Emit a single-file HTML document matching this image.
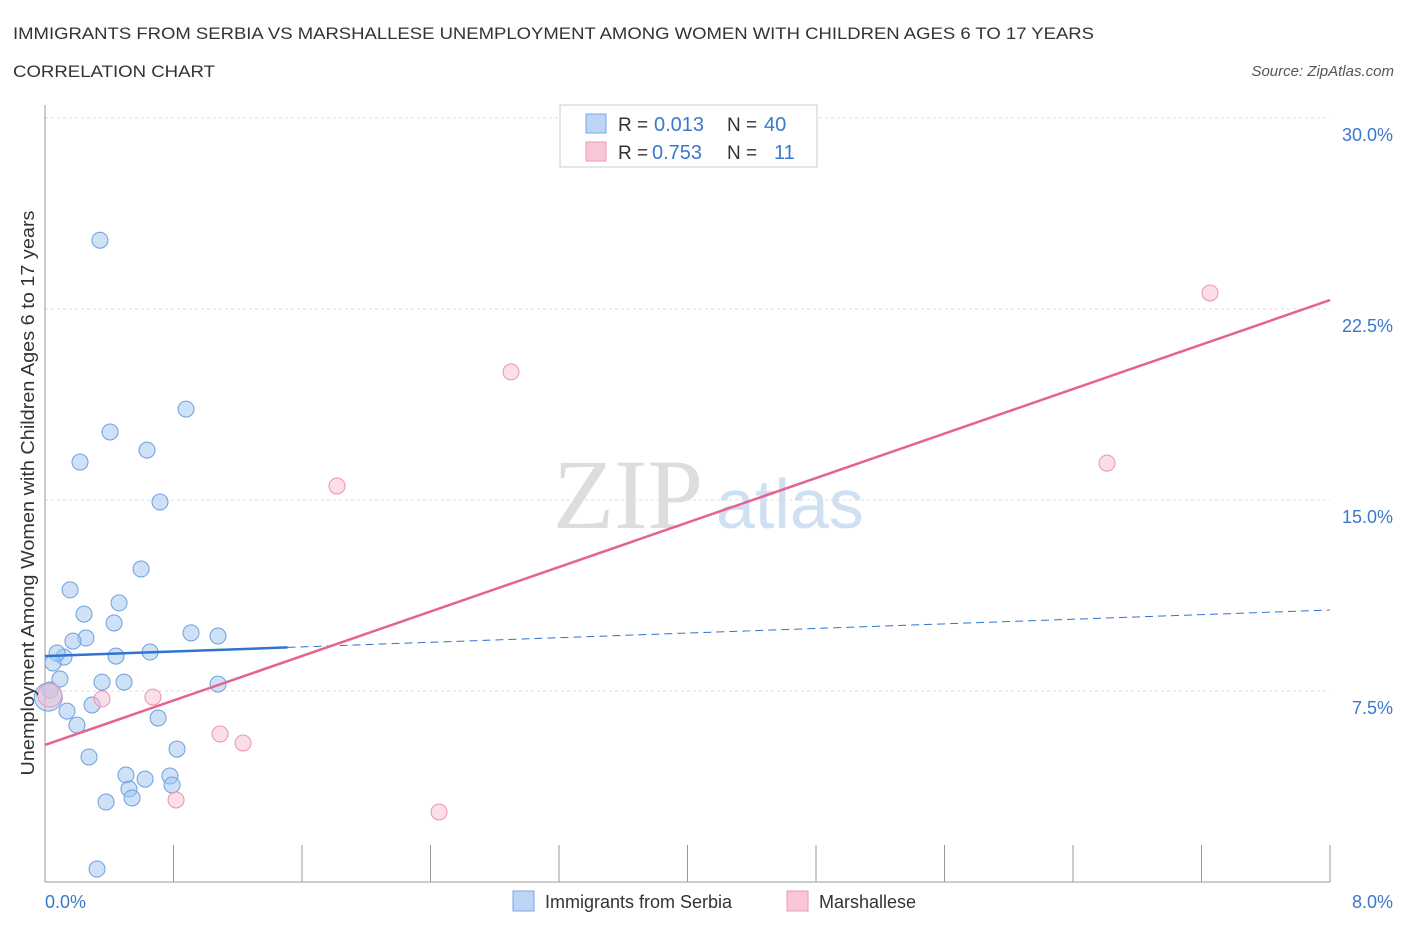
<!DOCTYPE html>
<html><head><meta charset="utf-8"><style>
body{margin:0;background:#fff;font-family:"Liberation Sans",sans-serif;}
svg text{font-family:"Liberation Sans",sans-serif;}
</style></head><body>
<svg id="c" width="1406" height="930">
<text x="13" y="39" font-size="17" fill="#333" textLength="1081" lengthAdjust="spacingAndGlyphs">IMMIGRANTS FROM SERBIA VS MARSHALLESE UNEMPLOYMENT AMONG WOMEN WITH CHILDREN AGES 6 TO 17 YEARS</text>
<text x="13" y="77" font-size="17" fill="#333" textLength="202" lengthAdjust="spacingAndGlyphs">CORRELATION CHART</text>
<text x="1394" y="76" font-size="15" fill="#555" font-style="italic" text-anchor="end">Source: ZipAtlas.com</text>
<g id="grid"></g>
<text x="553" y="528" font-size="100" fill="#ddd" style="font-family:'Liberation Serif',serif">ZIP</text>
<text x="716" y="528" font-size="70" fill="#cfe0f3">atlas</text>
<g id="marks"></g>
<text x="34" y="493" font-size="18" fill="#333" text-anchor="middle" textLength="565" lengthAdjust="spacingAndGlyphs" transform="rotate(-90 34 493)">Unemployment Among Women with Children Ages 6 to 17 years</text>
<text x="45" y="908" font-size="18" fill="#3a78d0">0.0%</text>
<text x="1393" y="908" font-size="18" fill="#3a78d0" text-anchor="end">8.0%</text>
<g>
<rect x="560" y="105" width="257" height="62" fill="#fff" stroke="#ccc"/>
<rect x="586" y="114" width="20" height="19" fill="#bcd5f5" stroke="#7aa6e0"/>
<rect x="586" y="142" width="20" height="19" fill="#f9c6d5" stroke="#ee9ab4"/>
<text x="618" y="131" font-size="19" fill="#333">R =</text>
<text x="654" y="131" font-size="20" fill="#3a78d0">0.013</text>
<text x="727" y="131" font-size="19" fill="#333">N =</text>
<text x="764" y="131" font-size="20" fill="#3a78d0">40</text>
<text x="618" y="159" font-size="19" fill="#333">R =</text>
<text x="652" y="159" font-size="20" fill="#3a78d0">0.753</text>
<text x="727" y="159" font-size="19" fill="#333">N =</text>
<text x="774" y="159" font-size="20" fill="#3a78d0">11</text>
</g>
<g>
<rect x="513" y="891" width="21" height="20" fill="#bcd5f5" stroke="#7aa6e0"/>
<text x="545" y="908" font-size="18" fill="#333">Immigrants from Serbia</text>
<rect x="787" y="891" width="21" height="20" fill="#f9c6d5" stroke="#ee9ab4"/>
<text x="819" y="908" font-size="18" fill="#333">Marshallese</text>
</g>
</svg>
<script>
const yTicks=[7.5,15.0,22.5,30.0];
const xTickVals=[0,0.8,1.6,2.4,3.2,4.0,4.8,5.6,6.4,7.2,8.0];
const serbiaX=[0.342,0.878,0.405,0.635,0.218,0.716,0.598,0.156,0.461,0.243,0.43,0.255,0.174,0.909,1.077,0.654,0.442,0.118,0.075,0.05,0.093,0.355,0.492,1.077,0.031,0.293,0.137,0.704,0.199,0.822,0.274,0.504,0.623,0.778,0.523,0.791,0.542,0.38,0.324,0.02];
const serbiaY=[25.2,18.57,17.67,16.96,16.49,14.92,12.29,11.47,10.96,10.52,10.17,9.58,9.46,9.78,9.66,9.03,8.87,8.83,8.99,8.6,7.97,7.85,7.85,7.77,7.54,6.95,6.71,6.44,6.16,5.22,4.91,4.2,4.04,4.16,3.65,3.81,3.3,3.14,0.51,7.26];
const marshX=[7.253,2.901,6.612,1.818,0.672,0.355,1.09,1.233,0.816,2.453,0.03];
const marshY=[23.13,20.03,16.45,15.55,7.26,7.19,5.81,5.46,3.22,2.75,7.34];
const serbiaTrend=[8.87,10.68];
const marshTrend=[5.38,22.85];
const X=v=>45+v/8*1285, Y=v=>882-v/7.5*191;
const NS='http://www.w3.org/2000/svg';
function mk(t,a,p){const e=document.createElementNS(NS,t);for(const k in a)e.setAttribute(k,a[k]);p.appendChild(e);return e;}
const g=document.getElementById('grid'),m=document.getElementById('marks');
yTicks.forEach(v=>{
 const l=mk('line',{x1:45,x2:1330,y1:Y(v),y2:Y(v),stroke:'#ddd','stroke-dasharray':'3,3'},g);
 
 
 const t=mk('text',{x:1393,y:Y(v)+23,'font-size':18,fill:'#3a78d0','text-anchor':'end'},g);
 t.textContent=v.toFixed(1)+'%';
 
 
});
const ax=mk('line',{x1:45,x2:45,y1:105,y2:882,stroke:'#999'},g);


const bx=mk('line',{x1:45,x2:1330,y1:882,y2:882,stroke:'#999'},g);


xTickVals.forEach(v=>{
 const l=mk('line',{x1:X(v),x2:X(v),y1:845,y2:882,stroke:'#999'},g);
 
 
});
serbiaX.forEach((x,i)=>{
 const c=mk('circle',{cx:X(x),cy:Y(serbiaY[i]),r:i==serbiaX.length-1?14:8,fill:'rgba(160,196,240,0.5)',stroke:'#6c9fe0','stroke-width':1},m);
 
 
});
marshX.forEach((x,i)=>{
 const c=mk('circle',{cx:X(x),cy:Y(marshY[i]),r:i==marshX.length-1?12:8,fill:'rgba(248,190,208,0.5)',stroke:'#ec93b0','stroke-width':1},m);
 
 
});
const sAt=v=>serbiaTrend[0]+(serbiaTrend[1]-serbiaTrend[0])*v/8;
const sl=mk('line',{x1:X(0),y1:Y(sAt(0)),x2:X(1.51),y2:Y(sAt(1.51)),stroke:'#2f74d0','stroke-width':2.5},m);


const sd=mk('line',{x1:X(1.51),y1:Y(sAt(1.51)),x2:X(8),y2:Y(sAt(8)),stroke:'#2f74d0','stroke-width':1,'stroke-dasharray':'8,5'},m);


const pl=mk('line',{x1:X(0),y1:Y(marshTrend[0]),x2:X(8),y2:Y(marshTrend[1]),stroke:'#e4648f','stroke-width':2.5},m);


</script>
</body></html>
